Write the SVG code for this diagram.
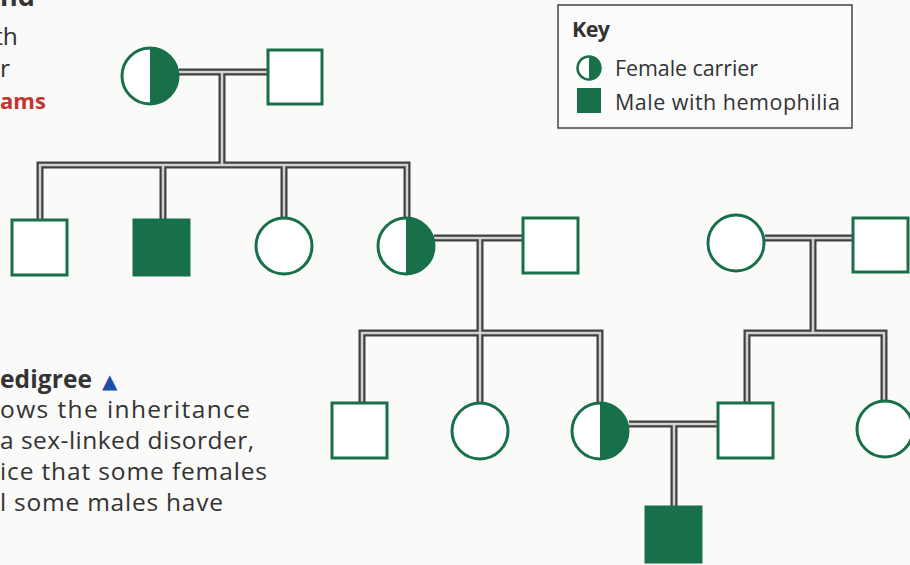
<svg xmlns="http://www.w3.org/2000/svg" xmlns:xlink="http://www.w3.org/1999/xlink" width="910" height="565" viewBox="0 0 910 565">
  <style>
    .txt { font-family: "Open Sans", "Liberation Sans", sans-serif; fill: #333; }
    .body { font-size: 24.5px; }
    .bold { font-weight: 700; }
    .red { fill: #c8302a; }
    .keytxt { font-size: 21.5px; }
    .tri { font-family: "DejaVu Sans", sans-serif; font-size: 20px; fill: #1f4fa8; }
    .node { fill: #fff; stroke: #17704a; stroke-width: 3; }
    .affected { fill: #17704a; stroke: #17704a; stroke-width: 3; }
    .half { fill: #17704a; }
    .ln-out { fill: none; stroke: #404040; stroke-width: 7; stroke-linejoin: miter; }
    .ln-in { fill: none; stroke: #d2d2d2; stroke-width: 2.5; stroke-linejoin: miter; }
  </style>
  <defs>
    <path id="links" d="M179,72 H268 M222,72 V165 M40,220 V165 H407 V218 M163,165 V220 M284,165 V218
      M434,238 H523 M480,238 V333 M362,403 V333 H600 V403 M480,333 V403
      M765,238 H853 M813,238 V333 M747,403 V333 H884 V401
      M629,424 H718 M674,424 V507"/>
  </defs>

  <rect x="0" y="0" width="910" height="565" fill="#fafaf9"/>

  <!-- side text -->
  <text class="txt bold" x="0" y="6" font-size="27">nd</text>
  <text class="txt body" x="-6" y="45">th</text>
  <text class="txt body" x="0" y="77">r</text>
  <text class="txt bold red" x="0" y="109" font-size="22">ams</text>

  <text class="txt body bold" x="0" y="388"><tspan textLength="92">edigree</tspan> <tspan x="102" class="tri">▲</tspan></text>
  <text class="txt body" x="0" y="418" textLength="250">ows the inheritance</text>
  <text class="txt body" x="0" y="449" textLength="254">a sex-linked disorder,</text>
  <text class="txt body" x="0" y="480" textLength="267">ice that some females</text>
  <text class="txt body" x="0" y="511" textLength="223">l some males have</text>

  <!-- key -->
  <g id="key">
    <rect x="558" y="5" width="294" height="123" fill="#fbfbfb" stroke="#444" stroke-width="1.5"/>
    <text class="txt keytxt bold" x="572" y="37" textLength="38">Key</text>
    <circle cx="589" cy="68" r="11.5" fill="#fff" stroke="#17704a" stroke-width="2.5"/>
    <path class="half" d="M589,56.5 A11.5,11.5 0 0 1 589,79.5 Z"/>
    <text class="txt keytxt" x="615" y="76" textLength="143">Female carrier</text>
    <rect x="577" y="88" width="24" height="25" fill="#17704a"/>
    <text class="txt keytxt" x="615" y="110" textLength="225">Male with hemophilia</text>
  </g>

  <!-- connectors -->
  <g id="connectors">
    <use xlink:href="#links" class="ln-out"/>
    <use xlink:href="#links" class="ln-in"/>
  </g>

  <!-- generation I -->
  <g id="g1-mother">
    <circle class="node" cx="150" cy="76" r="28"/>
    <path class="half" d="M150,48 A28,28 0 0 1 150,104 Z"/>
  </g>
  <g id="g1-father"><rect class="node" x="268" y="50" width="54" height="54"/></g>

  <!-- generation II -->
  <g id="g2-son1"><rect class="node" x="12" y="220" width="55" height="55"/></g>
  <g id="g2-son2"><rect class="affected" x="134" y="220" width="55" height="55"/></g>
  <g id="g2-daughter1"><circle class="node" cx="284" cy="246" r="28"/></g>
  <g id="g2-daughter2">
    <circle class="node" cx="406" cy="246" r="28"/>
    <path class="half" d="M406,218 A28,28 0 0 1 406,274 Z"/>
  </g>
  <g id="g2-husband"><rect class="node" x="523" y="218" width="55" height="55"/></g>
  <g id="g2-wife"><circle class="node" cx="736" cy="243" r="28"/></g>
  <g id="g2-man"><rect class="node" x="853" y="218" width="55" height="54"/></g>

  <!-- generation III -->
  <g id="g3-son"><rect class="node" x="332" y="403" width="55" height="55"/></g>
  <g id="g3-daughter1"><circle class="node" cx="480" cy="431" r="28"/></g>
  <g id="g3-daughter2">
    <circle class="node" cx="600" cy="431" r="28"/>
    <path class="half" d="M600,403 A28,28 0 0 1 600,459 Z"/>
  </g>
  <g id="g3-husband"><rect class="node" x="718" y="403" width="55" height="55"/></g>
  <g id="g3-sister"><circle class="node" cx="885" cy="429" r="28"/></g>

  <!-- generation IV -->
  <g id="g4-son"><rect class="affected" x="646" y="507" width="55" height="55"/></g>
</svg>
